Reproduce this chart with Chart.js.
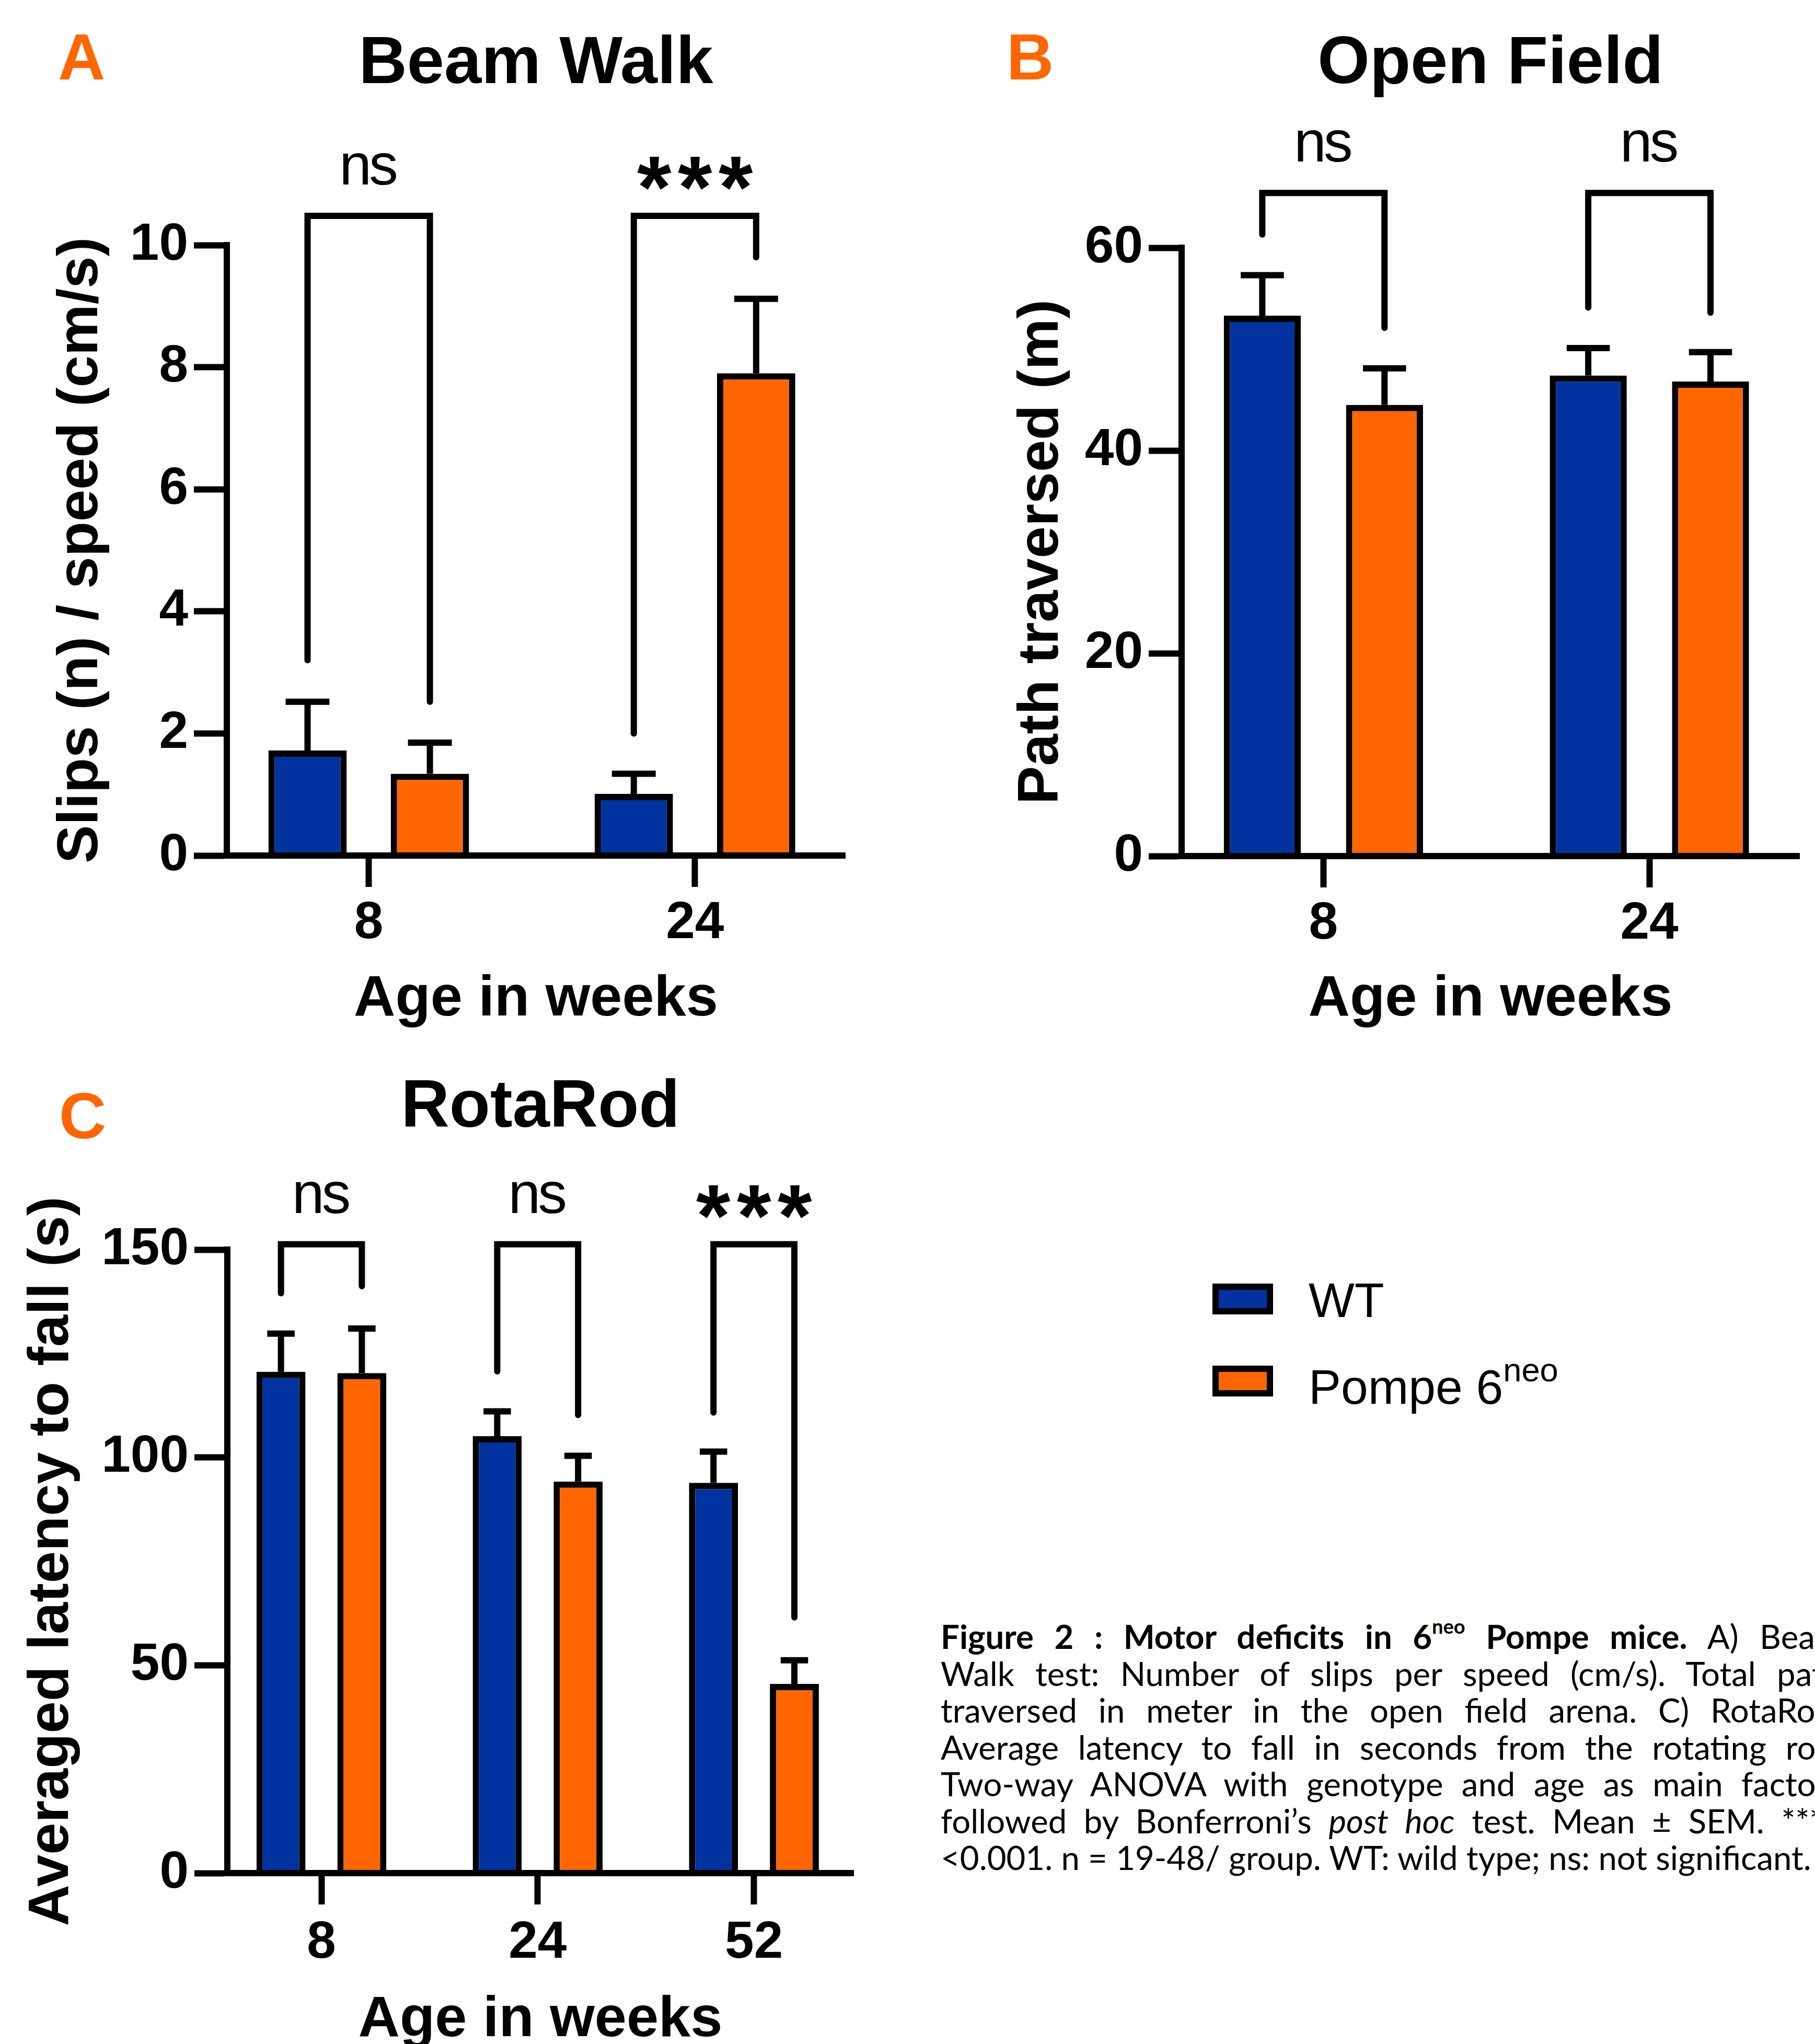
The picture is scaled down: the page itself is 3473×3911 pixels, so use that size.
<!DOCTYPE html>
<html><head><meta charset="utf-8">
<script src="https://cdn.jsdelivr.net/npm/chart.js"></script>
<style>
html,body{margin:0;padding:0;background:#fff;}
body{width:3473px;height:3911px;overflow:hidden;position:relative;}
canvas{position:absolute;}
.letter{position:absolute;font-family:'Liberation Sans',Arial,sans-serif;font-weight:bold;color:#FF6600;font-size:125px;line-height:1;}
.leg-sw{position:absolute;box-sizing:border-box;border:12px solid #000;width:116px;height:59px;}
.leg-tx{position:absolute;font-family:'Liberation Sans',Arial,sans-serif;font-size:93px;line-height:1;color:#000;white-space:nowrap;}
.leg-tx sup{font-size:0.68em;vertical-align:baseline;position:relative;top:-0.68em;line-height:0;}
#caption{position:absolute;left:1800px;top:3096px;width:1725px;font-family:Lato,'Open Sans',sans-serif;font-size:63.5px;line-height:70.5px;color:#000;}
#caption .j{text-align:justify;text-align-last:justify;}
#caption sup{font-size:0.6em;vertical-align:baseline;position:relative;top:-0.75em;line-height:0;}
</style></head>
<body>
<canvas id="cA" width="1740" height="2000" style="left:0;top:0;width:1740px;height:2000px"></canvas>
<canvas id="cB" width="1733" height="2000" style="left:1740px;top:0;width:1733px;height:2000px"></canvas>
<canvas id="cC" width="1740" height="1990" style="left:0;top:2000px;width:1740px;height:1990px"></canvas>

<div class="letter" style="left:111px;top:46px">A</div>
<div class="letter" style="left:1926px;top:46px">B</div>
<div class="letter" style="left:113px;top:2072px">C</div>

<div class="leg-sw" style="left:2320px;top:2456px;background:#0033A0"></div>
<div class="leg-tx" style="left:2504px;top:2442px">WT</div>
<div class="leg-sw" style="left:2320px;top:2613px;background:#FF6600"></div>
<div class="leg-tx" style="left:2504px;top:2608px">Pompe 6<sup>neo</sup></div>

<div id="caption">
<div class="j"><b>Figure 2 : Motor deficits in 6<sup>neo</sup> Pompe mice.</b> A) Beam</div>
<div class="j">Walk test: Number of slips per speed (cm/s). Total path</div>
<div class="j">traversed in meter in the open field arena. C) RotaRod:</div>
<div class="j">Average latency to fall in seconds from the rotating rod.</div>
<div class="j">Two-way ANOVA with genotype and age as main factors</div>
<div class="j">followed by Bonferroni’s <i>post hoc</i> test. Mean ± SEM. ***p</div>
<div>&lt;0.001. n = 19-48/ group. WT: wild type; ns: not significant.</div>
</div>

<script>
// ---------- data ----------
const beamAges = ['8', '24'];
const beamWT = [1.72, 1.01];
const beamWTSem = [0.80, 0.33];
const beamPompe = [1.34, 7.90];
const beamPompeSem = [0.51, 1.22];
const beamSig = ['ns', '***'];

const fieldAges = ['8', '24'];
const fieldWT = [53.3, 47.4];
const fieldWTSem = [4.0, 2.7];
const fieldPompe = [44.5, 46.8];
const fieldPompeSem = [3.6, 2.9];
const fieldSig = ['ns', 'ns'];

const rotaAges = ['8', '24', '52'];
const rotaWT = [120.6, 105.1, 93.9];
const rotaWTSem = [9.2, 6.0, 7.5];
const rotaPompe = [120.3, 94.2, 45.5];
const rotaPompeSem = [10.7, 6.2, 5.7];
const rotaSig = ['ns', 'ns', '***'];

const seriesNames = ['WT', 'Pompe 6neo'];

// ---------- chart setup ----------
const FONT = "'Liberation Sans', Arial, sans-serif";
Chart.defaults.font.family = FONT;
Chart.defaults.color = '#000';
const BLUE = '#0033A0', ORANGE = '#FF6600', LW = 12;

const sigPlugin = {
  id: 'sigAnnot',
  afterDatasetsDraw(chart, args, opts) {
    const ctx = chart.ctx, ys = chart.scales.y;
    const m0 = chart.getDatasetMeta(0), m1 = chart.getDatasetMeta(1);
    ctx.save();
    ctx.strokeStyle = '#000';
    ctx.lineWidth = LW;
    // error bars (upper SEM)
    chart.data.datasets.forEach((ds, di) => {
      chart.getDatasetMeta(di).data.forEach((bar, i) => {
        const p = bar.getProps(['x', 'y', 'width'], true);
        const yTop = ys.getPixelForValue(ds.data[i].y + ds.errors[i]);
        const half = p.width * opts.capRatio / 2;
        ctx.lineCap = 'butt';
        ctx.beginPath();
        ctx.moveTo(p.x, p.y); ctx.lineTo(p.x, yTop);
        ctx.moveTo(p.x - half, yTop); ctx.lineTo(p.x + half, yTop);
        ctx.stroke();
      });
    });
    // significance brackets
    opts.brackets.forEach((b, i) => {
      const xl = m0.data[i].x, xr = m1.data[i].x, cx = (xl + xr) / 2;
      const yt = ys.getPixelForValue(b[1]);
      ctx.lineJoin = 'miter'; ctx.lineCap = 'round';
      ctx.beginPath();
      ctx.moveTo(xl, ys.getPixelForValue(b[0]));
      ctx.lineTo(xl, yt); ctx.lineTo(xr, yt);
      ctx.lineTo(xr, ys.getPixelForValue(b[2]));
      ctx.stroke();
      const label = opts.labels[i];
      ctx.fillStyle = '#000';
      ctx.textAlign = 'center'; ctx.textBaseline = 'alphabetic';
      if (label.indexOf('*') >= 0) {
        ctx.font = 'bold 100px ' + FONT;
        const m = ctx.measureText('*');
        const h = m.actualBoundingBoxAscent + m.actualBoundingBoxDescent;
        const size = 100 * opts.starHeight / h;
        ctx.font = 'bold ' + size + 'px ' + FONT;
        const mm = ctx.measureText('*');
        const base = yt - opts.starGap - mm.actualBoundingBoxDescent;
        for (let k = 0; k < label.length; k++) {
          ctx.fillText('*', cx + (k - (label.length - 1) / 2) * opts.starPitch, base);
        }
      } else {
        ctx.font = '100px ' + FONT;
        const m = ctx.measureText('n');
        const size = 100 * opts.nsHeight / m.actualBoundingBoxAscent;
        ctx.font = size + 'px ' + FONT;
        const w = ctx.measureText(label);
        const ink = w.actualBoundingBoxLeft + w.actualBoundingBoxRight;
        const ls = (opts.nsWidth - ink) / (label.length - 1);
        ctx.letterSpacing = ls + 'px';
        ctx.fillText(label, cx + ls / 2, yt - opts.nsGap);
        ctx.letterSpacing = '0px';
      }
    });
    ctx.restore();
  }
};

function buildPanel(id, p) {
  const n = p.labels.length;
  const pts = arr => arr.map((v, i) => ({x: i, y: v}));
  const dsBase = {borderColor: '#000', borderWidth: LW, categoryPercentage: p.cp, barPercentage: p.bp};
  return new Chart(document.getElementById(id), {
    type: 'bar',
    data: {
      datasets: [
        Object.assign({label: seriesNames[0], data: pts(p.wt), errors: p.wtSem, backgroundColor: BLUE}, dsBase),
        Object.assign({label: seriesNames[1], data: pts(p.pompe), errors: p.pompeSem, backgroundColor: ORANGE}, dsBase)
      ]
    },
    options: {
      responsive: false, maintainAspectRatio: false, animation: false, devicePixelRatio: 1,
      layout: {padding: {left: 0, right: p.padRight, top: 0, bottom: 0}},
      plugins: {
        legend: {display: false},
        tooltip: {enabled: false},
        title: {display: true, text: p.title, fullSize: false, color: '#000',
          font: {size: 128, weight: 'bold', lineHeight: 1.2},
          padding: {top: p.titleTop, bottom: p.titleBottom}},
        sigAnnot: {brackets: p.brackets, labels: p.sig, capRatio: 0.56,
          starHeight: 64, starPitch: 78, starGap: 50, nsHeight: 60, nsWidth: 102, nsGap: 60}
      },
      scales: {
        x: {
          type: 'linear', bounds: 'data', min: -0.435, max: n - 1 + 0.46, offset: false,
          afterBuildTicks: s => { s.ticks = p.labels.map((_, i) => ({value: i})); },
          afterFit: s => { s.height = p.xh; },
          ticks: {callback: v => p.labels[v], font: {size: 100, weight: 'bold'}, padding: p.xTickPad,
            color: '#000', autoSkip: false, maxRotation: 0, minRotation: 0},
          grid: {display: true, offset: false, drawOnChartArea: false, drawTicks: true, tickLength: 60, tickWidth: LW, tickColor: '#000'},
          border: {display: true, color: '#000', width: LW, z: 1},
          title: {display: true, text: 'Age in weeks', color: '#000',
            font: {size: 110, weight: 'bold', lineHeight: 1.2}, padding: {top: 0, bottom: p.xTitlePad}}
        },
        y: {
          min: 0, max: p.ymax,
          afterFit: s => { s.width = p.yw; },
          ticks: {stepSize: p.step, font: {size: 100, weight: 'bold'}, padding: 11, color: '#000'},
          grid: {display: true, drawOnChartArea: false, drawTicks: true, tickLength: 63, tickWidth: LW, tickColor: '#000'},
          border: {display: true, color: '#000', width: LW, z: 1},
          title: {display: true, text: p.yTitle, color: '#000',
            font: {size: 110, weight: 'bold', lineHeight: 1.2}, padding: {top: p.yTitlePad, bottom: 0}}
        }
      }
    },
    plugins: [sigPlugin]
  });
}

buildPanel('cA', {
  labels: beamAges, wt: beamWT, wtSem: beamWTSem, pompe: beamPompe, pompeSem: beamPompeSem, sig: beamSig,
  brackets: [[3.2, 10.48, 2.52], [2.0, 10.48, 9.8]],
  title: 'Beam Walk', yTitle: 'Slips (n) / speed (cm/s)', ymax: 10, step: 2,
  cp: 0.75, bp: 0.64, yw: 434, padRight: 123, xh: 363,
  titleTop: 47, titleBottom: 268.4, xTitlePad: 21, yTitlePad: 90, xTickPad: 10
});
buildPanel('cB', {
  labels: fieldAges, wt: fieldWT, wtSem: fieldWTSem, pompe: fieldPompe, pompeSem: fieldPompeSem, sig: fieldSig,
  brackets: [[61.3, 65.4, 52.1], [54.1, 65.4, 53.6]],
  title: 'Open Field', yTitle: 'Path traversed (m)', ymax: 60, step: 20,
  cp: 0.75, bp: 0.63, yw: 521, padRight: 30, xh: 362,
  titleTop: 47, titleBottom: 273.4, xTitlePad: 21, yTitlePad: 188, xTickPad: 10
});
buildPanel('cC', {
  labels: rotaAges, wt: rotaWT, wtSem: rotaWTSem, pompe: rotaPompe, pompeSem: rotaPompeSem, sig: rotaSig,
  brackets: [[139.5, 151.3, 141.2], [120.7, 151.3, 110.2], [110.8, 151.3, 61.5]],
  title: 'RotaRod', yTitle: 'Averaged latency to fall (s)', ymax: 150, step: 50,
  cp: 0.748, bp: 0.606, yw: 435, padRight: 107, xh: 406,
  titleTop: 44, titleBottom: 193.4, xTitlePad: 58, yTitlePad: 34, xTickPad: 14
});
</script>
</body></html>
